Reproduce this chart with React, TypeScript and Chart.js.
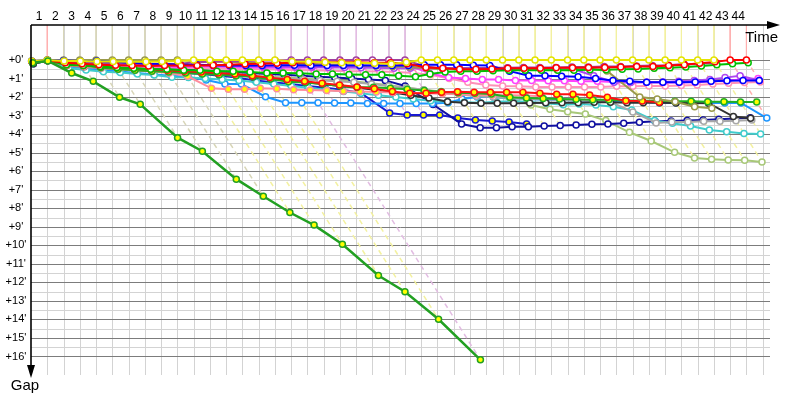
import React, { useEffect, useRef } from 'react';
import { Chart, registerables } from 'chart.js';

Chart.register(...registerables);

// ---- scale constants (leader lap time in minutes, axis ranges) ----
const LAP_MINUTES = 1.39;
const X_MAX = 45.45;
const Y_MIN = -1.89;
const Y_MAX = 17;

// ---- tick labels ----
const lapLabels = ['1','2','3','4','5','6','7','8','9','10','11','12','13','14','15','16','17','18','19','20','21','22','23','24','25','26','27','28','29','30','31','32','33','34','35','36','37','38','39','40','41','42','43','44'];
const gapTickValues = [0,1,2,3,4,5,6,7,8,9,10,11,12,13,14,15,16];
const gridLaps = [1,2,3,4,5,6,7,8,9,10,11,12,13,14,15,16,17,18,19,20,21,22,23,24,25,26,27,28,29,30,31,32,33,34,35,36,37,38,39,40,41,42,43,44,45];

// ---- gaps to the leader (minutes), indexed by lap 0..last lap completed ----
const yellowGaps = [0.05,0,0.05,0.05,0.08,0.08,0.1,0.1,0.08,0.05, 0,0,0,0,0,0,0.08,0.1,0.12,0.15, 0.15,0.18,0.22,0.12,0,0,0,0,0,0, 0,0,0,0,0,0,0,0,0,0, 0,0,0];
const oliveGaps = [0.1,0.01,0,0,0,0,0,0,0,0, 0.05,0.08,0.1,0.12,0.15,0.18,0.2,0.22,0.25,0.28, 0.3,0.32,0.35,0.38,0.45,0.5,0.5,0.5,0.5,0.52, 0.5,0.5,0.52,0.5,0.45,0.59,2.0,2.1,2.25,2.52, 2.6];
const purpleGaps = [0.12,0.02,0.1,0.12,0.15,0.18,0.2,0.2,0.22,0.2, 0.12,0.1,0.08,0.05,0.03,0.02,0,0,0,0, 0,0,0,0,0.35,0.45,0.45,0.45,0.42,0.42, 0.4,0.4,0.4,0.38,0.38,0.35,0.35,0.32,0.3,0.28, 0.22,0.2,0.15];
const redGaps = [0.1,0.02,0.15,0.2,0.25,0.28,0.3,0.32,0.3,0.3, 0.3,0.28,0.25,0.22,0.2,0.18,0.15,0.12,0.12,0.12, 0.12,0.15,0.15,0.2,0.4,0.45,0.5,0.5,0.48,0.45, 0.45,0.45,0.42,0.42,0.4,0.4,0.38,0.35,0.35,0.3, 0.25,0.18,0.1,0,0];
const greenGaps = [0.15,0.03,0.25,0.3,0.35,0.4,0.45,0.5,0.5,0.55, 0.55,0.6,0.6,0.65,0.7,0.7,0.72,0.75,0.75,0.78, 0.8,0.8,0.85,0.9,0.75,0.65,0.6,0.6,0.58,0.55, 0.55,0.55,0.55,0.55,0.52,0.52,0.5,0.48,0.45,0.42, 0.38,0.32,0.25,0.2,0.15];
const blueGaps = [0.05,0,0.02,0.05,0.05,0.1,0.15,0.2,0.22,0.25, 0.25,0.28,0.3,0.3,0.3,0.28,0.28,0.3,0.3,0.3, 0.3,0.3,0.3,0.3,0.25,0.25,0.25,0.28,0.3,0.6, 0.85,0.85,0.88,0.9,1.0,1.1,1.15,1.2,1.2,1.2, 1.18,1.15,1.12,1.1,1.1];
const violetGaps = [0.1,0.02,0.15,0.2,0.22,0.25,0.28,0.3,0.3,0.32, 0.3,0.3,0.32,0.32,0.35,0.35,0.38,0.38,0.4,0.4, 0.42,0.42,0.45,0.45,0.45,0.45,0.45,0.45,0.45,0.45, 0.45,0.45,0.45,0.5,0.85,1.2,1.22,1.2,1.18,1.15, 1.1,1.05,0.95,0.85,1.1];
const magentaGaps = [0.1,0.02,0.18,0.22,0.25,0.28,0.3,0.32,0.35,0.38, 0.35,0.35,0.38,0.4,0.4,0.42,0.42,0.4,0.38,0.35, 0.32,0.3,0.28,0.3,0.7,0.95,1.0,1.05,1.05,1.1, 1.1,1.12,1.12,1.15,1.15,1.18,1.2,1.2,1.22,1.22, 1.2,1.15,1.1,1.05,1.0];
const pinkGaps = [0.1,0.02,0.2,0.25,0.3,0.32,0.35,0.38,0.4,0.42, 0.45,0.45,0.48,0.5,0.5,0.52,0.55,0.55,0.58,0.6, 0.6,0.62,0.65,0.7,0.8,1.0,1.2,1.35,1.4,1.42, 1.45,1.45,1.45,1.45,1.45,1.42,1.42,1.4,1.4,1.38, 1.35,1.3,1.25,1.22,1.19];
const navyGaps = [0.08,0.02,0.1,0.2,0.3,0.35,0.4,0.45,0.5,0.5, 0.55,0.6,0.65,0.7,0.75,0.8,0.85,0.9,0.95,1.0, 1.05,1.1,1.4,2.4,3.45,3.65,3.65,3.6,3.6,3.56, 3.54,3.51,3.47,3.45,3.41,3.36,3.31,3.29,3.27,3.24, 3.2,3.15,3.11];
const blueYGaps = [0.2,0.03,0.3,0.4,0.45,0.5,0.55,0.6,0.65,0.7, 0.75,0.85,0.95,1.1,1.2,1.3,1.4,1.5,1.6,1.78, 2.86,2.97,2.97,2.97,3.13,3.24,3.29,3.34,3.45];
const dodgerGaps = [0.2,0.03,0.35,0.45,0.55,0.62,0.7,0.78,0.85,0.92, 1.08,1.29,1.3,1.98,2.3,2.3,2.3,2.32,2.32,2.35, 2.35,2.35,2.35,2.35,2.3,2.1,2.0,2.0,2.05,2.1, 2.15,2.15,2.2,2.2,2.2,2.25,2.25,2.3,2.3,2.3, 2.32,2.32,2.32,3.13];
const cyanGaps = [0.18,0.03,0.45,0.54,0.63,0.68,0.76,0.81,0.93,0.95, 1.0,1.05,1.1,1.2,1.3,1.4,1.5,1.6,1.7,1.8, 1.9,2.0,2.1,2.2,2.25,2.28,2.3,2.25,2.22,2.25, 2.34,2.41,2.37,2.43,2.52,2.7,3.27,3.41,3.56,3.78, 3.87,3.96,3.99];
const lightGreenGaps = [0.15,0.03,0.3,0.35,0.4,0.45,0.5,0.55,0.6,0.65, 0.7,0.75,0.8,0.85,0.9,0.95,1.0,1.05,1.1,1.15, 1.25,1.35,1.5,1.6,1.7,1.8,1.9,2.0,2.1,2.43, 2.66,2.79,2.91,3.27,3.9,4.37,4.98,5.29,5.36,5.39, 5.41,5.5];
const grayGaps = [0.2,0.03,0.3,0.38,0.45,0.5,0.55,0.6,0.65,0.7, 0.72,0.78,0.85,0.9,0.95,1.0,1.05,1.1,1.15,1.2, 1.3,1.4,1.5,1.6,1.75,1.85,1.95,2.0,2.05,2.1, 2.12,2.15,2.18,2.2,2.25,2.8,3.4,3.35,3.35,3.3, 3.3,3.28,3.24];
const blackGaps = [0.2,0.03,0.28,0.35,0.4,0.45,0.5,0.55,0.6,0.65, 0.7,0.75,0.8,0.9,1.0,1.1,1.2,1.3,1.4,1.5, 1.6,1.75,1.9,2.05,2.25,2.3,2.33,2.33,2.34,2.32, 2.3,2.3,2.3,2.28,2.28,2.3,2.3,2.3,2.32,2.32, 2.33,3.05,3.14];
const greenYGaps = [0.1,0.02,0.2,0.3,0.4,0.5,0.55,0.6,0.65,0.7, 0.75,0.8,0.85,0.9,1.02,1.17,1.22,1.29,1.4,1.47, 1.47,1.53,1.58,1.65,1.71,1.76,1.8,1.83,2.01,2.05, 2.08,2.1,2.12,2.15,2.15,2.18,2.2,2.2,2.22,2.22, 2.25,2.25,2.27,2.27];
const redYGaps = [0.12,0.02,0.25,0.3,0.35,0.4,0.45,0.5,0.55,0.6, 0.65,0.7,0.75,0.85,0.95,1.05,1.15,1.25,1.35,1.45, 1.55,1.7,1.8,1.8,1.74,1.71,1.74,1.74,1.74,1.74, 1.8,1.85,1.85,1.89,2.01,2.2,2.21,2.28];
const pinkYGaps = [0.12,0.03,0.28,0.35,0.42,0.5,0.55,0.62,0.7,0.88, 1.53,1.58,1.58,1.53,1.55,1.6,1.62,1.65,1.68,1.7, 1.72,1.75,1.78,1.8,1.82,1.85,1.88,1.9,1.9,1.92, 1.95];
const slowGreenGaps = [0.15,0.05,0.7,1.15,2.01,2.39,4.19,4.92,6.43,7.35,8.23,8.91,9.94,11.63,12.51,13.99,16.18];

// leader of each lap 1..44 (colours the lap line above +0' and its dashed diagonal)
const leaderByLap = ['red','olive','olive','olive','olive','olive','olive','olive','olive','yellow','yellow','yellow','yellow','yellow','yellow','purple','purple','purple','purple','purple','purple','purple','purple','yellow','yellow','yellow','yellow','yellow','yellow','yellow','yellow','yellow','yellow','yellow','yellow','yellow','yellow','yellow','yellow','yellow','yellow','yellow','red','red'];

const paleColors: Record<string, string> = {
  red: '#ffb0b0',
  olive: '#d8d6b8',
  yellow: '#f3f1a0',
  purple: '#e2bce2',
};

type Car = { name: string; color: string; fill: string; gaps: number[]; width?: number };

const cars: Car[] = [
  { name: 'slowGreen', color: '#22a022', fill: '#ffff00', gaps: slowGreenGaps, width: 2.5 },
  { name: 'yellow', color: '#e4e400', fill: '#ffffff', gaps: yellowGaps },
  { name: 'red', color: '#ff0000', fill: '#ffffff', gaps: redGaps },
  { name: 'green', color: '#00c000', fill: '#ffffff', gaps: greenGaps },
  { name: 'blue', color: '#0000ff', fill: '#ffffff', gaps: blueGaps },
  { name: 'purple', color: '#a040a0', fill: '#ffffff', gaps: purpleGaps },
  { name: 'olive', color: '#9a9a4a', fill: '#ffffff', gaps: oliveGaps },
  { name: 'violet', color: '#b048f0', fill: '#ffffff', gaps: violetGaps },
  { name: 'magenta', color: '#ff40ff', fill: '#ffffff', gaps: magentaGaps },
  { name: 'pink', color: '#ff90b8', fill: '#ffffff', gaps: pinkGaps },
  { name: 'redY', color: '#ff1010', fill: '#ffff00', gaps: redYGaps },
  { name: 'greenY', color: '#20b020', fill: '#ffff00', gaps: greenYGaps },
  { name: 'pinkY', color: '#ff8c9c', fill: '#ffff00', gaps: pinkYGaps },
  { name: 'black', color: '#303030', fill: '#ffffff', gaps: blackGaps },
  { name: 'gray', color: '#a8a8a8', fill: '#ffffff', gaps: grayGaps },
  { name: 'cyan', color: '#40cccc', fill: '#ffffff', gaps: cyanGaps },
  { name: 'dodger', color: '#1e96ff', fill: '#ffffff', gaps: dodgerGaps },
  { name: 'navy', color: '#1010a0', fill: '#ffffff', gaps: navyGaps },
  { name: 'blueY', color: '#1a1ad0', fill: '#ffff00', gaps: blueYGaps },
  { name: 'lightGreen', color: '#a8c878', fill: '#ffffff', gaps: lightGreenGaps },
];

const gridPlugin = {
  id: 'gapGrid',
  beforeDatasetsDraw(chart: any) {
    const { ctx, chartArea: a, scales } = chart;
    const x = scales.x;
    const y = scales.y;
    ctx.save();
    ctx.lineWidth = 1;
    ctx.strokeStyle = '#d3d3d3';
    for (const lap of gridLaps) {
      const px = Math.round(x.getPixelForValue(lap)) + 0.5;
      ctx.beginPath();
      ctx.moveTo(px, a.top);
      ctx.lineTo(px, a.bottom);
      ctx.stroke();
    }
    for (let i = 0; i < gapTickValues.length - 1; i++) {
      const py = Math.round(y.getPixelForValue(gapTickValues[i] + 0.5)) + 0.5;
      ctx.beginPath();
      ctx.moveTo(a.left, py);
      ctx.lineTo(a.right, py);
      ctx.stroke();
    }
    ctx.strokeStyle = '#7c7c7c';
    for (const g of gapTickValues) {
      const py = Math.round(y.getPixelForValue(g)) + 0.5;
      ctx.beginPath();
      ctx.moveTo(a.left, py);
      ctx.lineTo(a.right, py);
      ctx.stroke();
    }
    ctx.restore();
  },
  afterDatasetsDraw(chart: any) {
    const { ctx, chartArea: a, scales } = chart;
    const x = scales.x;
    const y = scales.y;
    ctx.save();
    ctx.strokeStyle = '#000';
    ctx.fillStyle = '#000';
    ctx.lineWidth = 1.6;
    // top (time) axis
    ctx.beginPath();
    ctx.moveTo(a.left, a.top);
    ctx.lineTo(770, a.top);
    ctx.stroke();
    ctx.beginPath();
    ctx.moveTo(767, a.top - 4);
    ctx.lineTo(780, a.top);
    ctx.lineTo(767, a.top + 4);
    ctx.closePath();
    ctx.fill();
    // left (gap) axis
    ctx.beginPath();
    ctx.moveTo(a.left, a.top);
    ctx.lineTo(a.left, 368);
    ctx.stroke();
    ctx.beginPath();
    ctx.moveTo(a.left - 4, 365);
    ctx.lineTo(a.left, 378);
    ctx.lineTo(a.left + 4, 365);
    ctx.closePath();
    ctx.fill();

    ctx.textAlign = 'center';
    ctx.textBaseline = 'middle';
    ctx.font = '12px "Liberation Sans", Arial, sans-serif';
    lapLabels.forEach((t, i) => {
      ctx.fillText(t, x.getPixelForValue(i + 0.5), 17);
    });
    ctx.font = '11px "Liberation Sans", Arial, sans-serif';
    for (const g of gapTickValues) {
      ctx.fillText('+' + g + "'", 16, y.getPixelForValue(g));
    }
    ctx.font = '15px "Liberation Sans", Arial, sans-serif';
    ctx.textBaseline = 'alphabetic';
    ctx.textAlign = 'right';
    ctx.fillText('Time', 778, 42);
    ctx.textAlign = 'center';
    ctx.fillText('Gap', 25, 390);
    ctx.restore();
  },
};

export default function App() {
  const ref = useRef<HTMLCanvasElement | null>(null);

  useEffect(() => {
    const carDatasets = cars.map((c, i) => ({
      label: c.name,
      data: c.gaps.map((g, lap) => ({ x: lap + g / LAP_MINUTES, y: g })),
      borderColor: c.color,
      backgroundColor: c.fill,
      pointBackgroundColor: c.fill,
      pointBorderColor: c.color,
      pointRadius: 3,
      pointBorderWidth: 1.5,
      borderWidth: c.width ?? 2,
      tension: 0,
      clip: false,
      order: i + 1,
    }));

    const diagonalDatasets = leaderByLap.map((leader, i) => {
      const lap = i + 1;
      const reached = cars.map((c) => c.gaps[lap]).filter((v) => v !== undefined) as number[];
      const slowest = Math.max(...reached);
      return {
        label: 'lap' + lap,
        data: [
          { x: lap, y: 0 },
          { x: lap + slowest / LAP_MINUTES, y: slowest },
        ],
        borderColor: paleColors[leader],
        borderWidth: 1.5,
        borderDash: [5, 4],
        pointRadius: 0,
        tension: 0,
        order: 1000,
      };
    });

    const topDatasets = leaderByLap.map((leader, i) => ({
      label: 'top' + (i + 1),
      data: [
        { x: i + 1, y: Y_MIN },
        { x: i + 1, y: 0 },
      ],
      borderColor: paleColors[leader],
      borderWidth: 1,
      pointRadius: 0,
      order: 999,
    }));

    const chart = new Chart(ref.current as HTMLCanvasElement, {
      type: 'line',
      data: { datasets: [...carDatasets, ...diagonalDatasets, ...topDatasets] as any },
      options: {
        responsive: false,
        animation: false,
        events: [],
        layout: { padding: { left: 31, top: 25, right: 30, bottom: 25 } },
        plugins: { legend: { display: false }, tooltip: { enabled: false } },
        scales: {
          x: { type: 'linear', min: 0, max: X_MAX, display: false },
          y: { type: 'linear', min: Y_MIN, max: Y_MAX, reverse: true, display: false },
        },
      },
      plugins: [gridPlugin],
    });
    return () => chart.destroy();
  }, []);

  return (
    <div style={{ position: 'fixed', left: 0, top: 0, width: 800, height: 400, background: '#ffffff' }}>
      <canvas ref={ref} width={800} height={400} />
    </div>
  );
}
